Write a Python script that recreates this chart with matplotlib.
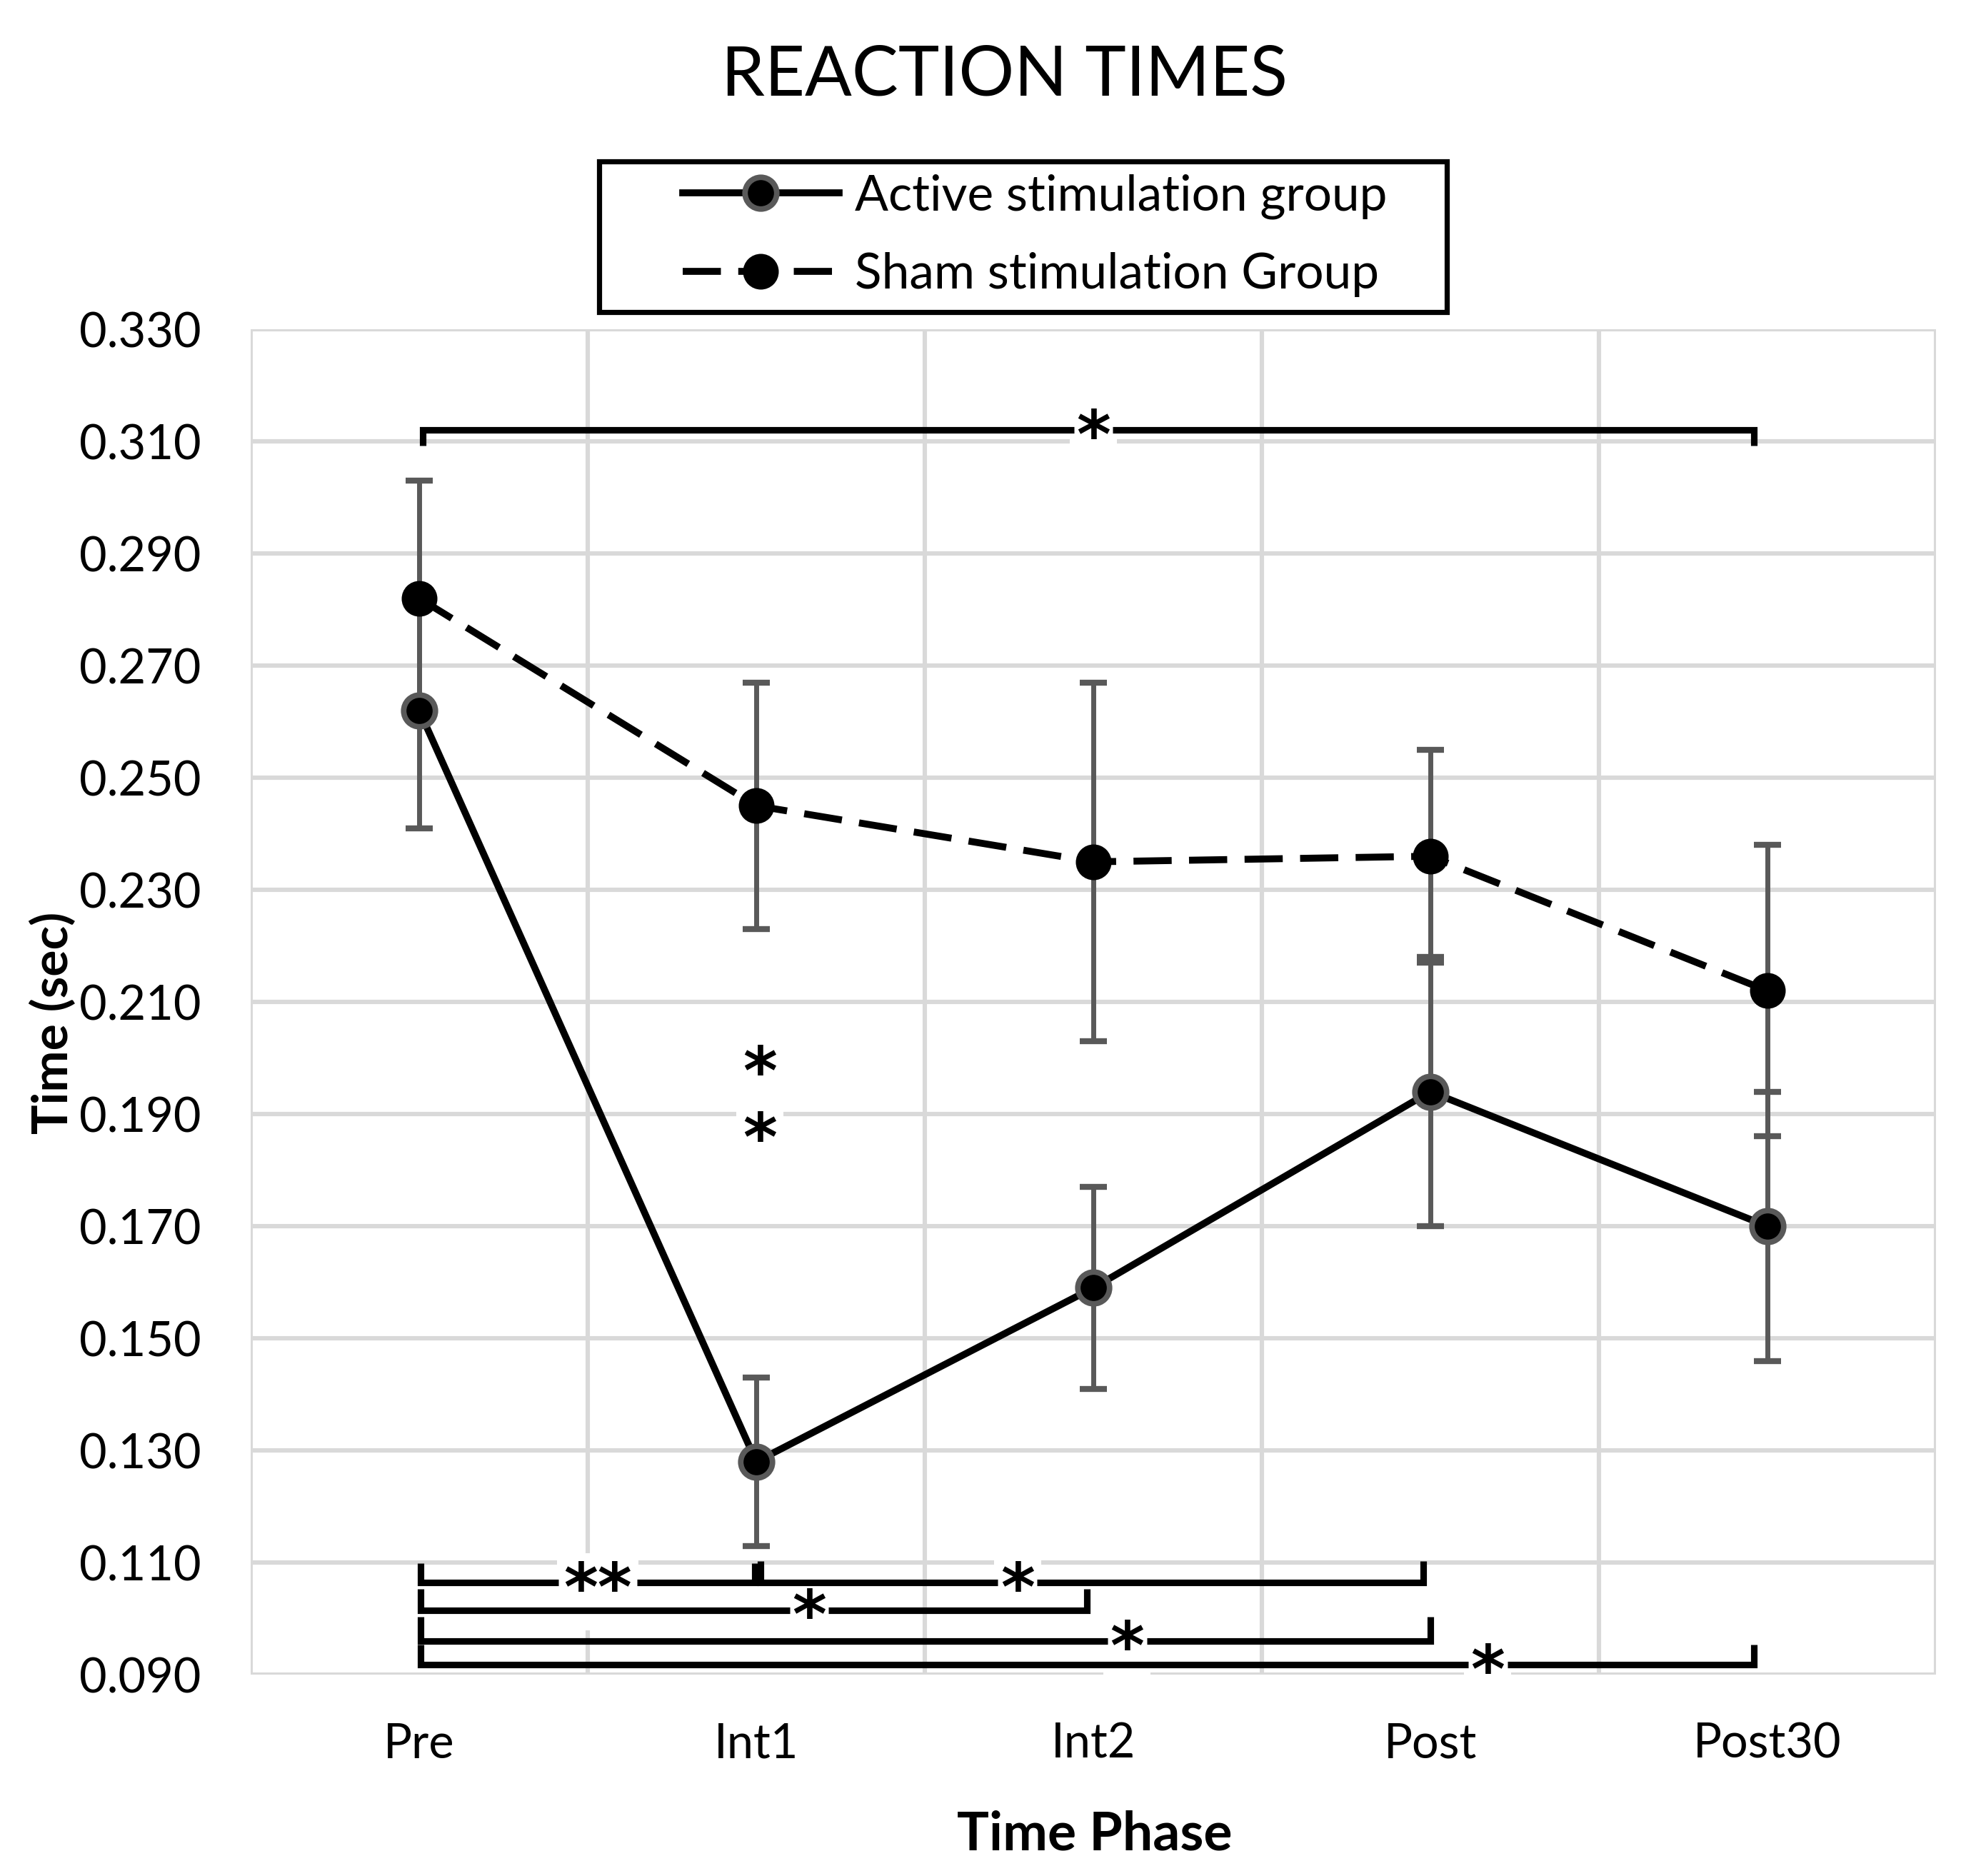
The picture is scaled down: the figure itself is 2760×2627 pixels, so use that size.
import matplotlib
matplotlib.use("Agg")
import matplotlib.pyplot as plt
from matplotlib.ticker import FixedLocator
from matplotlib.lines import Line2D
from matplotlib.patches import Rectangle

# ---------------- data ----------------
phases = ['Pre', 'Int1', 'Int2', 'Post', 'Post30']
active_mean = [0.262, 0.128, 0.159, 0.194, 0.170]
active_err = [0.021, 0.015, 0.018, 0.024, 0.024]
sham_mean = [0.282, 0.245, 0.235, 0.236, 0.212]
sham_err = [0.021, 0.022, 0.032, 0.019, 0.026]

y_ticks = [0.090, 0.110, 0.130, 0.150, 0.170, 0.190, 0.210, 0.230, 0.250, 0.270, 0.290, 0.310, 0.330]

# significance brackets: x0, x1, bar y, tick-end y, label, label x
brackets_x0 = [0.01, 0.005, 1.013, 0.005, 0.005, 0.005]
brackets_x1 = [3.96, 0.995, 2.98, 1.98, 3.0, 3.96]
brackets_y = [0.3120, 0.1064, 0.1064, 0.1015, 0.0960, 0.0918]
brackets_tick = [0.3093, 0.1099, 0.1103, 0.1053, 0.1003, 0.0954]
brackets_label = ['*', '**', '*', '*', '*', '*']
brackets_label_x = [2.0, 0.53, 1.775, 1.157, 2.10, 3.17]

# stand-alone stars (Int1 active vs sham)
star_x = [1.01, 1.01]
star_y = [0.1993, 0.1875]

# ---------------- style ----------------
plt.rcParams['font.family'] = ['Lato', 'DejaVu Sans']
GRID = '#d9d9d9'
EBAR = '#595959'
STAR_FS = 33

fig = plt.figure(figsize=(13.8, 13.135), dpi=200)
ax = fig.add_axes([0.1272, 0.1073, 0.855, 0.7172])

x = list(range(len(phases)))

ax.errorbar(x, sham_mean, yerr=sham_err, fmt='none', ecolor=EBAR,
            elinewidth=2.5, capsize=7, capthick=3, zorder=3)
ax.errorbar(x, active_mean, yerr=active_err, fmt='none', ecolor=EBAR,
            elinewidth=2.5, capsize=7, capthick=3, zorder=3)

ax.plot(x, sham_mean, color='black', lw=3.5, dashes=(5.5, 2.5),
        marker='o', ms=16.5, mfc='black', mec='black', mew=1.5, zorder=4)
ax.plot(x, active_mean, color='black', lw=3.5, ls='-',
        marker='o', ms=16, mfc='black', mec=EBAR, mew=2.8, zorder=5)

ax.set_xlim(-0.5, 4.5)
ax.set_ylim(0.090, 0.330)
ax.yaxis.set_major_locator(FixedLocator(y_ticks))
ax.set_yticklabels([f'{v:.3f}' for v in y_ticks])
ax.set_xticks(x)
ax.set_xticklabels(phases)
ax.xaxis.set_minor_locator(FixedLocator([-0.5, 0.5, 1.5, 2.5, 3.5, 4.5]))
ax.grid(True, which='major', axis='y', color=GRID, lw=2.2, zorder=0)
ax.grid(True, which='minor', axis='x', color=GRID, lw=2.2, zorder=0)
ax.set_axisbelow(True)
for s in ax.spines.values():
    s.set_visible(False)
ax.tick_params(axis='both', which='both', length=0)
ax.tick_params(axis='y', labelsize=24, pad=25)
ax.tick_params(axis='x', labelsize=24, pad=24)


def star(xs, ys, label):
    # white patch behind the star (hides grid lines), then the star itself on top
    ax.text(xs, ys, label, fontsize=STAR_FS, fontweight='bold', family='DejaVu Sans',
            color='white', ha='center', va='center', zorder=2,
            bbox=dict(boxstyle='square,pad=0.1', fc='white', ec='none'))
    ax.text(xs, ys, label, fontsize=STAR_FS, fontweight='bold', family='DejaVu Sans',
            color='black', ha='center', va='center', zorder=8)


# brackets, with a gap where the star sits
for i in range(len(brackets_y)):
    x0, x1 = brackets_x0[i], brackets_x1[i]
    yb, yt = brackets_y[i], brackets_tick[i]
    lx = brackets_label_x[i]
    half_gap = 0.058 * len(brackets_label[i])
    kw = dict(color='black', lw=3.3, solid_joinstyle='miter', solid_capstyle='butt',
              zorder=6, clip_on=False)
    ax.plot([x0, x0, lx - half_gap], [yt, yb, yb], **kw)
    ax.plot([lx + half_gap, x1, x1], [yb, yb, yt], **kw)
    star(lx, yb - 0.0016, brackets_label[i])

for sx, sy in zip(star_x, star_y):
    star(sx, sy - 0.0024, '*')

fig.text(0.5095, 1 - 106 / 2627, 'REACTION TIMES', fontsize=35, ha='center', va='center')
fig.text(0.5552, 1 - 2569 / 2627, 'Time Phase', fontsize=27, fontweight='bold',
         ha='center', va='center')
fig.text(74 / 2760, 1 - 1432 / 2627, 'Time (sec)', fontsize=25, fontweight='bold',
         rotation=90, ha='center', va='center')

# legend (frame drawn separately to match the wide padding of the original)
handles = [
    Line2D([], [], color='black', lw=3.5, marker='o', ms=16, mfc='black', mec=EBAR, mew=2.8),
    Line2D([], [], color='black', lw=3.5, dashes=(5.5, 2.5), marker='o', ms=16.5,
           mfc='black', mec='black', mew=1.5),
]
leg = fig.legend(handles, ['Active stimulation group', 'Sham stimulation Group'],
                 loc='center', bbox_to_anchor=(0.525, 0.8745), fontsize=25,
                 frameon=False, handlelength=3.15, handletextpad=0.32,
                 labelspacing=0.66, borderaxespad=0, borderpad=0)
fig.add_artist(Rectangle((839 / 2760, 1 - 437 / 2627), (2026 - 839) / 2760, (437 - 226) / 2627,
                         transform=fig.transFigure, fill=False, ec='black', lw=2.6))

fig.savefig('out.png', dpi=200)
